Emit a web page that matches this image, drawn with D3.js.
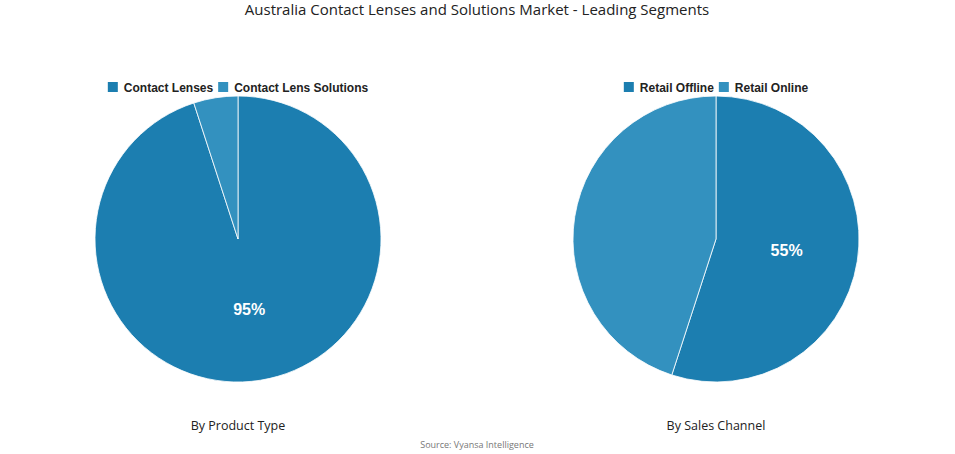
<!DOCTYPE html>
<html><head><meta charset="utf-8">
<script src="https://cdn.jsdelivr.net/npm/d3@7"></script>
<style>body{margin:0;background:#fff}</style></head>
<body><svg id="c" width="955" height="454"></svg>
<script>
const title = "Australia Contact Lenses and Solutions Market - Leading Segments";
const productCats = ["Contact Lenses", "Contact Lens Solutions"];
const productVals = [95, 5];
const channelCats = ["Retail Offline", "Retail Online"];
const channelVals = [55, 45];
const colors = ["#1c7eb0", "#3391bf"];
const svg = d3.select("#c");
svg.append("text").attr("x",477).attr("y",15).attr("text-anchor","middle")
  .attr("font-family","Open Sans").attr("font-size",15).attr("fill","#222").text(title);
svg.append("text").attr("x",477).attr("y",448).attr("text-anchor","middle")
  .attr("font-family","Open Sans").attr("font-size",9).attr("fill","#777").text("Source: Vyansa Intelligence");
function pie(cx, cats, vals, sub){
  const r = 143, cy = 239;
  const g = svg.append("g").attr("transform",`translate(${cx},${cy})`);
  const arcs = d3.pie().sort(null)(vals);
  const arc = d3.arc().innerRadius(0).outerRadius(r);
  g.selectAll("path").data(arcs).join("path").attr("d",arc)
    .attr("fill",(d,i)=>colors[i]).attr("stroke","#fff").attr("stroke-width",0.8);
  const la = d3.arc().innerRadius(r*0.5).outerRadius(r*0.5);
  const mx = d3.max(vals);
  g.selectAll("text.v").data(arcs.filter(d=>d.data===mx)).join("text")
    .attr("transform",d=>`translate(${la.centroid(d)})`).attr("text-anchor","middle").attr("dy","0.35em")
    .attr("font-family","Liberation Sans, Arial").attr("font-weight","bold").attr("font-size",16).attr("fill","#fff")
    .text(d=>d.data+"%");
  svg.append("text").attr("x",cx).attr("y",430).attr("text-anchor","middle")
    .attr("font-family","Open Sans").attr("font-size",12.5).attr("fill","#222").text(sub);
  const lg = svg.append("g");
  let x = 0;
  cats.forEach((c,i)=>{
    const it = lg.append("g").attr("transform",`translate(${x},0)`);
    it.append("rect").attr("x",0).attr("y",-5).attr("width",10).attr("height",10).attr("fill",colors[i]);
    const t = it.append("text").attr("x",16).attr("y",4.5).attr("font-family","Liberation Sans, Arial")
      .attr("font-weight","bold").attr("font-size",12).attr("fill","#222").text(c);
    x += 16 + t.node().getComputedTextLength() + 5;
  });
  const w = x - 5;
  lg.attr("transform",`translate(${cx - w/2},87)`);
}
pie(238, productCats, productVals, "By Product Type");
pie(716, channelCats, channelVals, "By Sales Channel");
</script></body></html>
